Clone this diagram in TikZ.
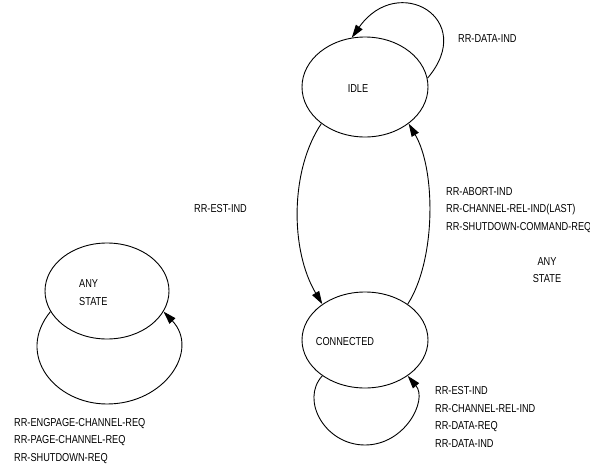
\documentclass[tikz,border=0pt]{standalone}
\usepackage{fontspec}
\setmainfont[FakeStretch=0.8]{Liberation Sans}
\usepackage{tikz}
\usetikzlibrary{shapes.geometric,arrows.meta,positioning}

\begin{document}
\begin{tikzpicture}[x=1pt, y=-1pt,
    oval/.style={ellipse, draw, line width=0.9pt, inner sep=0pt},
    arr/.style={-{Triangle[length=13pt,width=8pt]}, line width=0.9pt},
    lbl/.style={font=\fontsize{11.5}{17.5}\selectfont, inner sep=0pt, align=left, anchor=west}
]
    \useasboundingbox (0,0) rectangle (590,466);

    % states
    \node[oval, minimum width=126, minimum height=100] (idle) at (365,87) {};
    \node[oval, minimum width=126, minimum height=96] (conn) at (365,340) {};
    \node[oval, minimum width=124, minimum height=96] (any) at (107,291) {};

    \node[lbl, anchor=center] (idletxt) at (358,89) {IDLE};
    \node[lbl, anchor=center] (conntxt) at (345,342) {CONNECTED};
    \node[lbl] (anytxt) at (79,292.5) {ANY\\STATE};

    % transitions
    \draw[arr] (idle.8) .. controls (478,19) and (398,-28) .. (idle.105);
    \draw[arr] (idle.220) .. controls (290,170) and (290,250) .. (conn.140);
    \draw[arr] (conn.40) .. controls (436,260) and (436,170) .. (idle.320);
    \draw[arr] (conn.220) .. controls (300,400) and (325,445) .. (365,445)
        .. controls (405,445) and (428,400) .. (conn.320);
    \draw[arr] (any.200) .. controls (15,355) and (55,404) .. (107,404)
        .. controls (165,404) and (200,350) .. (any.340);

    % labels
    \node[lbl] (ldata) at (458,39) {RR-DATA-IND};
    \node[lbl] (lest) at (194,209) {RR-EST-IND};
    \node[lbl] (labort) at (446,210) {RR-ABORT-IND\\RR-CHANNEL-REL-IND(LAST)\\RR-SHUTDOWN-COMMAND-REQ};
    \node[lbl, align=center, anchor=center] (anyr) at (547,270) {ANY\\STATE};
    \node[lbl] (lconn) at (435,417) {RR-EST-IND\\RR-CHANNEL-REL-IND\\RR-DATA-REQ\\RR-DATA-IND};
    \node[lbl] (lany) at (14,441) {RR-ENGPAGE-CHANNEL-REQ\\RR-PAGE-CHANNEL-REQ\\RR-SHUTDOWN-REQ};
\end{tikzpicture}
\end{document}
